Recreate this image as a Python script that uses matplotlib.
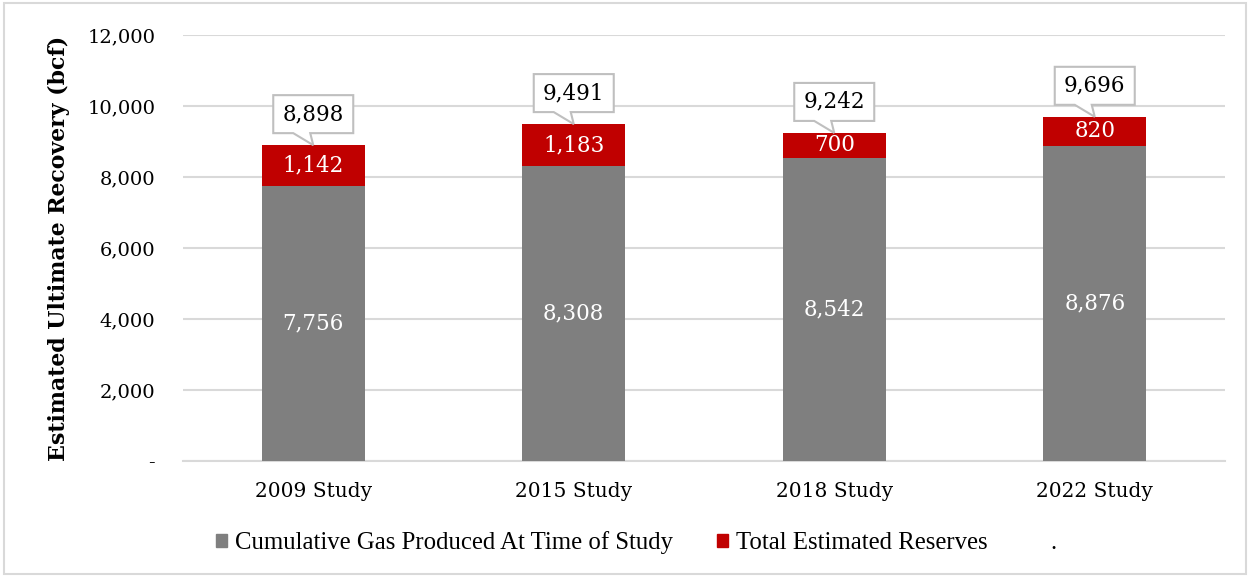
import matplotlib
matplotlib.use("Agg")
from matplotlib import pyplot as plt
from matplotlib.patches import Rectangle, Patch, Polygon
from matplotlib.ticker import FuncFormatter
import matplotlib.transforms as mtransforms

# Data
studies = ["2009 Study", "2015 Study", "2018 Study", "2022 Study"]
produced = [7756, 8308, 8542, 8876]
reserves = [1142, 1183, 700, 820]
totals = [8898, 9491, 9242, 9696]

grey = "#7f7f7f"
red = "#c00000"
grid_col = "#d9d9d9"

plt.rcParams["font.family"] = ["DejaVu Serif"]

fig = plt.figure(figsize=(12.5, 5.77), dpi=100)
ax = fig.add_axes([0.1464, 0.201, 0.8336, 0.7383])

x = range(len(studies))
width = 0.395

ax.bar(x, produced, width, color=grey, zorder=3)
ax.bar(x, reserves, width, bottom=produced, color=red, zorder=3)

# White labels inside the segments
for i in x:
    ax.text(i, produced[i] / 2, f"{produced[i]:,}", ha="center", va="center",
            color="white", fontsize=15.5, zorder=4)
    ax.text(i, produced[i] + reserves[i] / 2, f"{reserves[i]:,}",
            ha="center", va="center", color="white", fontsize=15.5, zorder=4)

ax.set_xlim(-0.5, 3.5)
ax.set_ylim(0, 12000)

# Callout boxes with the total (shape in pixels relative to the bar top)
px = 0.01  # one pixel in inches at dpi 100
callout = [(-40, 12), (-20, 12), (0, 0), (-3, 12), (40, 12), (40, 50), (-40, 50)]
for i in x:
    trans = fig.dpi_scale_trans + mtransforms.ScaledTranslation(i, totals[i], ax.transData)
    ax.add_patch(Polygon([(a * px, b * px) for a, b in callout], closed=True,
                         transform=trans, fc="white", ec="#bfbfbf", lw=1.5,
                         zorder=5, clip_on=False))
    ax.text(0, 31 * px, f"{totals[i]:,}", transform=trans, ha="center",
            va="center", fontsize=15.5, color="black", zorder=6)

ax.set_yticks(range(0, 12001, 2000))
ax.yaxis.set_major_formatter(FuncFormatter(lambda v, p: "-" if v == 0 else f"{int(v):,}"))
ax.set_xticks(list(x))
ax.set_xticklabels(studies)
ax.tick_params(axis="y", length=0, pad=20, labelsize=14)
ax.tick_params(axis="x", length=0, pad=15, labelsize=14.5)

ax.grid(axis="y", color=grid_col, lw=1.5, zorder=0)
for s in ["top", "right", "left"]:
    ax.spines[s].set_visible(False)
ax.spines["bottom"].set_color(grid_col)
ax.spines["bottom"].set_linewidth(1.5)

ax.set_ylabel("Estimated Ultimate Recovery (bcf)", fontsize=15.8, fontweight="bold")
ax.yaxis.set_label_coords(-0.108, 0.5)

handles = [Patch(color=grey), Patch(color=red), Patch(color="none")]
labels = ["Cumulative Gas Produced At Time of Study", "Total Estimated Reserves", "."]
fig.legend(handles, labels, loc="center", bbox_to_anchor=(0.509, 0.059), ncol=3,
           frameon=False, handlelength=0.45, handleheight=0.45, handletextpad=0.3,
           columnspacing=1.8, prop={"family": "Liberation Serif", "size": 17.8})

# Light border round the whole chart
fig.patches.append(Rectangle((0.003, 0.005), 0.994, 0.99, transform=fig.transFigure,
                             fill=False, ec=grid_col, lw=1.5))

fig.savefig("out.png", dpi=100)
